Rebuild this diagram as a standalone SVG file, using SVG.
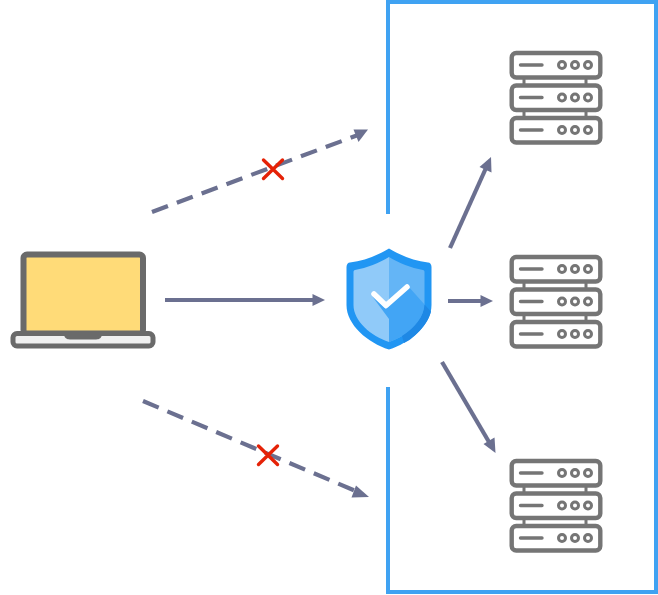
<svg xmlns="http://www.w3.org/2000/svg" width="658" height="595" viewBox="0 0 658 595">
<defs>
<style>
.line{stroke:#6b7090;stroke-width:4.200;fill:none}
.dash{stroke-dasharray:17 9.500}
.head{fill:#6b7090}
.x{stroke:#e52207;stroke-width:3.400;stroke-linecap:round;fill:none}
.box{stroke:#3fa2f2;stroke-width:4;fill:none}
.s{stroke:#757575;stroke-width:4.400;fill:#fff}
.sl{stroke:#757575;stroke-width:3.400;fill:none;stroke-linecap:round}
.sb{stroke:#757575;stroke-width:3;fill:none}
.sc{stroke:#757575;stroke-width:3;fill:#fff}
</style>
<g id="srv">
<path class="sb" d="M14 26V36M76 26V36M14 58V69M76 58V69"/>
<rect class="s" x="1.700" y="2" width="88.600" height="24.500" rx="4.500"/>
<rect class="s" x="1.700" y="34.500" width="88.600" height="24.500" rx="4.500"/>
<rect class="s" x="1.700" y="67" width="88.600" height="24.500" rx="4.500"/>
<path class="sl" d="M10.500 14H32M10.500 46.500H32M10.500 79H32"/>
<circle class="sc" cx="52" cy="14" r="3.500"/><circle class="sc" cx="65" cy="14" r="3.500"/><circle class="sc" cx="78" cy="14" r="3.500"/>
<circle class="sc" cx="52" cy="46.500" r="3.500"/><circle class="sc" cx="65" cy="46.500" r="3.500"/><circle class="sc" cx="78" cy="46.500" r="3.500"/>
<circle class="sc" cx="52" cy="79" r="3.500"/><circle class="sc" cx="65" cy="79" r="3.500"/><circle class="sc" cx="78" cy="79" r="3.500"/>
</g>
</defs>
<path id="boundary" class="box" d="M388 214V2H656V592H388V387"/>
<g id="connectors">
<path class="line dash" d="M152 212L358 135"/>
<polygon class="head" points="368,129.500 353.500,129.500 358.500,142"/>
<path class="line" d="M165 300H314"/>
<polygon class="head" points="325,300 312.500,294 312.500,306"/>
<path class="line dash" d="M143 401L358 492"/>
<polygon class="head" points="369,497 356,485.500 351.500,497.500"/>
<path class="line" d="M450 248L486 168"/>
<polygon class="head" points="491,157 479.500,167 491.500,172.500"/>
<path class="line" d="M448 301H482"/>
<polygon class="head" points="493,301 480.500,295 480.500,307"/>
<path class="line" d="M442 362L489 442"/>
<polygon class="head" points="495.500,453 483.500,444 494.500,437.500"/>
</g>
<g id="cross-top"><path class="x" d="M263.500 160L282.500 178.500M282.500 160L263.500 178.500"/></g>
<g id="cross-bottom"><path class="x" d="M258.500 446L277.500 464.500M277.500 446L258.500 464.500"/></g>
<g id="laptop">
<rect x="23.500" y="254.500" width="119.500" height="79" rx="3.500" fill="#ffdb78" stroke="#6a6a6a" stroke-width="6"/>
<rect x="13" y="333.500" width="140" height="12.500" rx="4" fill="#f0f0f0" stroke="#6a6a6a" stroke-width="5"/>
<path d="M64 335H102C101 339 98 339.500 95 339.500H71C68 339.500 65 339 64 335Z" fill="#6a6a6a"/>
</g>
<g id="shield">
<path d="M389 248.500C378 255 364 261 350 262.500C348 262.500 346.500 264.500 346.500 267V305C346.500 325 368 343 389 349.500C410 343 431.500 325 431.500 305V267C431.500 264.500 430 262.500 428 262.500C414 261 400 255 389 248.500Z" fill="#2196f3"/>
<path d="M389 257C379 263 367 268 355 270C354 270 353.500 271 353.500 272V305C353.500 321 371 336 389 342Z" fill="#90caf9"/>
<path d="M389 257C399 263 411 268 423 270C424 270 424.500 271 424.500 272V305C424.500 321 407 336 389 342Z" fill="#64b5f6"/>
<path d="M372 296L386 309L408 286L424.500 304.500C424 316 415 328 403 335.500C398 338.500 393.500 340.500 389 342V319Z" fill="#42a5f5"/>
<path d="M424.500 304.500L431 311.500C428 325 412 340 404 343L402 336C415 328 424 316 424.500 304.500Z" fill="#1e88e5"/>
<path d="M374 294L386 305.500L407 287" fill="none" stroke="#fff" stroke-width="5.500" stroke-linecap="round" stroke-linejoin="round"/>
</g>
<use id="server-top" href="#srv" x="510" y="51"/>
<use id="server-middle" href="#srv" x="510" y="255"/>
<use id="server-bottom" href="#srv" x="510" y="459"/>
</svg>
